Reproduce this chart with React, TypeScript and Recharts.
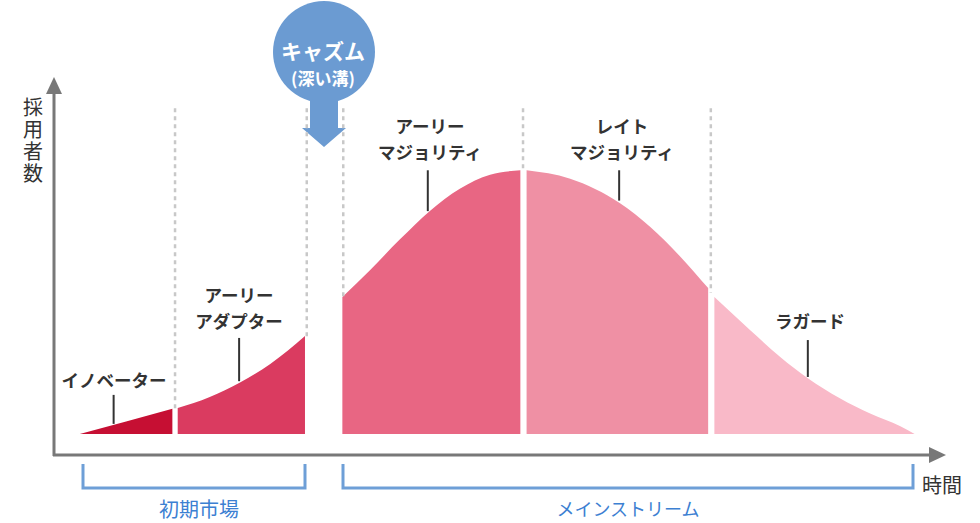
import { ComposedChart, Area, XAxis, YAxis, ReferenceLine, Customized } from 'recharts'

// 時間 (0-100) / 採用者数 (ピーク = 100)
const innovators = [[2.9, 0], [8.1, 4.7], [13.3, 9.5]]
const earlyAdopters = [[13.9, 9.8], [17.5, 14.0], [20.9, 19.5], [24.3, 26.5], [28.2, 37.1]]
const earlyMajority = [[32.4, 51.9], [35.5, 62.1], [38.9, 73.9], [42.2, 84.5], [45.6, 93.0], [49.0, 98.3], [52.4, 100]]
const lateMajority = [[53.1, 100], [58.0, 96.8], [63.6, 87.5], [67.0, 78.5], [70.3, 67.5], [73.5, 55.3]]
const laggards = [[74.2, 51.9], [78.2, 39.4], [81.6, 29.2], [84.7, 21.1], [88.3, 13.5], [91.7, 7.7], [95.1, 2.9], [96.7, 0]]

const segments = [
  { key: 'innovators', points: innovators, color: '#c60f33', curve: 'linear' },
  { key: 'earlyAdopters', points: earlyAdopters, color: '#da3b60', curve: 'monotone' },
  { key: 'earlyMajority', points: earlyMajority, color: '#e86683', curve: 'monotone' },
  { key: 'lateMajority', points: lateMajority, color: '#ef90a4', curve: 'monotone' },
  { key: 'laggards', points: laggards, color: '#f9b9c8', curve: 'monotone' },
]

// 区切りの点線 [x, 下端]
const dividers = [[13.6, 9.6], [28.4, 37], [32.5, 52], [52.7, 100], [73.8, 53.5]]
const dividerTop = 123.5

// 引き出し線 [x, 上端, 下端]
const leaders = [[6.7, 14.8, 3.8], [20.8, 36.4, 20.0], [42.0, 100, 84.5], [63.5, 100, 88.5], [84.7, 35.6, 21.6]]

const rows = segments.flatMap((s) => s.points.map(([t, v]) => ({ t, [s.key]: v })))

const font = "'Noto Sans CJK JP', 'Noto Sans', sans-serif"
const labelColor = '#333'
const blue = '#6e9fd7'

function Overlay() {
  // 1〜2行のラベル (y は1行目の中心)
  const label = (x: number, y: number, lines: string[]) => (
    <text
      key={lines.join('') + y}
      x={x}
      y={y}
      textAnchor="middle"
      dominantBaseline="central"
      fontFamily={font}
      fontWeight={700}
      fontSize={17.5}
      fill={labelColor}
    >
      {lines.map((l, i) => (
        <tspan key={i} x={x} dy={i === 0 ? 0 : 25.5}>
          {l}
        </tspan>
      ))}
    </text>
  )
  return (
    <g>
      {/* axes */}
      <line x1={54} y1={456} x2={54} y2={92} stroke="#787878" strokeWidth={3} />
      <polygon points="54,77 46,94 62,94" fill="#787878" />
      <line x1={53} y1={455} x2={930} y2={455} stroke="#787878" strokeWidth={3} />
      <polygon points="946,455 929,447 929,463" fill="#787878" />
      <text
        x={33}
        y={97}
        style={{ writingMode: 'vertical-rl' }}
        letterSpacing={2}
        fontFamily={font}
        fontSize={20}
        fill="#333"
      >
        採用者数
      </text>
      <text x={942} y={484} textAnchor="middle" dominantBaseline="central" fontFamily={font} fontSize={20} fill="#333">
        時間
      </text>

      {/* chasm */}
      <circle cx={324} cy={52} r={51} fill="#6b9bd2" />
      <polygon points="310,100 338,100 338,128 346,128 324,147 302,128 310,128" fill="#6b9bd2" />
      <text x={323} y={50} textAnchor="middle" dominantBaseline="central" fontFamily={font} fontWeight={700} fontSize={21} fill="#fff">
        キャズム
        <tspan x={323} dy={27} fontSize={17}>
          (深い溝)
        </tspan>
      </text>

      {/* segment labels */}
      {label(114, 379, ['イノベーター'])}
      {label(239, 294, ['アーリー', 'アダプター'])}
      {label(430, 125, ['アーリー', 'マジョリティ'])}
      {label(622, 125, ['レイト', 'マジョリティ'])}
      {label(810, 320, ['ラガード'])}

      {/* brackets */}
      <path d="M83,464 V488 H305 V464" fill="none" stroke={blue} strokeWidth={3} />
      <path d="M343,464 V488 H913 V464" fill="none" stroke={blue} strokeWidth={3} />
      <text x={199} y={508} textAnchor="middle" dominantBaseline="central" fontFamily={font} fontSize={20} fill="#3c80d2">
        初期市場
      </text>
      <text x={628} y={508} textAnchor="middle" dominantBaseline="central" fontFamily={font} fontSize={18} fill="#3c80d2">
        メインストリーム
      </text>
    </g>
  )
}

export default function App() {
  return (
    <div style={{ position: 'absolute', left: 0, top: 0, width: 980, height: 523, background: '#fff' }}>
      <ComposedChart width={980} height={523} data={rows} margin={{ top: 78, right: 36, bottom: 68, left: 54 }}>
        <XAxis dataKey="t" type="number" domain={[0, 100]} allowDataOverflow hide />
        <YAxis type="number" domain={[-8, 135]} allowDataOverflow hide />
        {dividers.map(([x, y2]) => (
          <ReferenceLine
            key={'d' + x}
            segment={[{ x, y: dividerTop }, { x, y: y2 }]}
            stroke="#c8c8c8"
            strokeWidth={2.5}
            strokeDasharray="4 4"
            ifOverflow="visible"
          />
        ))}
        {segments.map((s) => (
          <Area
            key={s.key}
            dataKey={s.key}
            type={s.curve as 'linear' | 'monotone'}
            fill={s.color}
            fillOpacity={1}
            stroke="none"
            baseValue={0}
            connectNulls={false}
            isAnimationActive={false}
          />
        ))}
        {leaders.map(([x, y1, y2]) => (
          <ReferenceLine
            key={'l' + x}
            segment={[{ x, y: y1 }, { x, y: y2 }]}
            stroke="#333"
            strokeWidth={2}
            ifOverflow="visible"
          />
        ))}
        <Customized component={Overlay} />
      </ComposedChart>
    </div>
  )
}
